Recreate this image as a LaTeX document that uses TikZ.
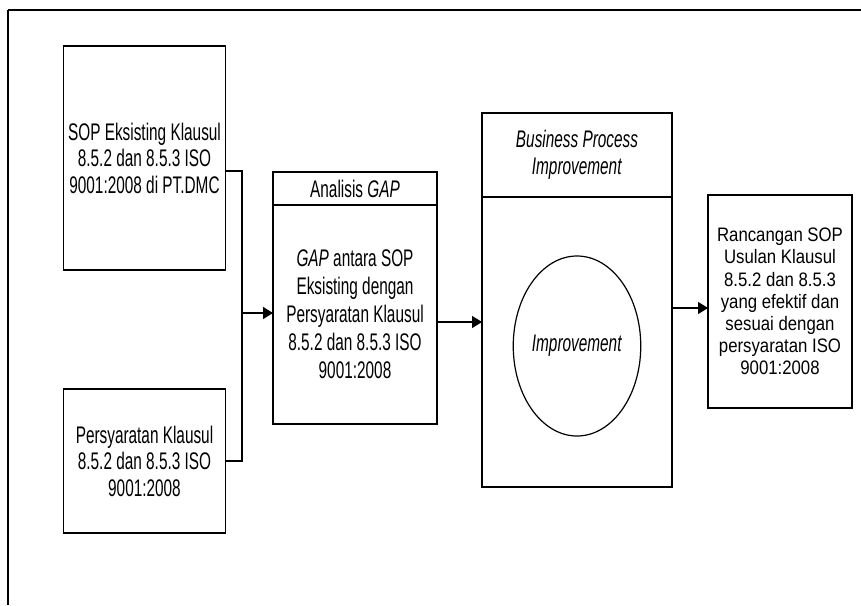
\documentclass[tikz,border=0pt]{standalone}
\usepackage{fontspec}
\setmainfont[FakeStretch=0.64]{Liberation Sans}
\newfontfamily\usulanfont[FakeStretch=0.86]{Liberation Sans}
\usetikzlibrary{shapes.geometric,arrows.meta}

\begin{document}
\begin{tikzpicture}[x=1pt,y=-1pt,
    kotak/.style={draw,rectangle,line width=1.5pt,outer sep=0pt,inner sep=2pt,align=center,
      font=\fontsize{24}{26.5}\selectfont},
    garis/.style={line width=1.5pt},
    panah/.style={line width=1.5pt,-{Triangle[length=10pt,width=12pt]}}]
    \useasboundingbox (0,0) rectangle (861,605);
    % bingkai
    \draw[line width=2.2pt] (861,10) -- (8,10);
    \draw[line width=1.4pt] (8,10) -- (8,605);

    % input
    \node[kotak,minimum width=162pt,minimum height=224pt] (sop) at (144.5,158)
        {SOP Eksisting Klausul\\8.5.2 dan 8.5.3 ISO\\9001:2008 di PT.DMC};
    \node[kotak,minimum width=162pt,minimum height=144pt] (persy) at (144.5,461)
        {Persyaratan Klausul\\8.5.2 dan 8.5.3 ISO\\9001:2008};
    \coordinate (gabung) at (242,313);

    % analisis gap
    \node[kotak,minimum width=164pt,minimum height=33pt] (gaphead) at (355,188.5)
        {Analisis \textit{GAP}};
    \node[kotak,minimum width=164pt,minimum height=219pt,font=\fontsize{24}{28}\selectfont] (gapbody) at (355,314.5)
        {\textit{GAP} antara SOP\\Eksisting dengan\\Persyaratan Klausul\\8.5.2 dan 8.5.3 ISO\\9001:2008};

    % bpi
    \node[kotak,minimum width=190pt,minimum height=84pt] (bpihead) at (577,155)
        {\textit{Business Process}\\\textit{Improvement}};
    \node[kotak,minimum width=190pt,minimum height=290pt] (bpibody) at (577,342) {};
    \node[draw,ellipse,line width=1.2pt,minimum width=108pt,minimum height=180pt,inner sep=0pt,
        font=\fontsize{24}{26.5}\selectfont] (impr) at (577,346) {\textit{Improvement}};

    % output
    \node[kotak,minimum width=144pt,minimum height=213pt,font=\usulanfont\fontsize{19.5}{22.2}\selectfont] (usulan) at (780,301.5)
        {Rancangan SOP\\Usulan Klausul\\8.5.2 dan 8.5.3\\yang efektif dan\\sesuai dengan\\persyaratan ISO\\9001:2008};

    % panah
    \draw[garis] ([yshift=-13pt]sop.east) -| (gabung);
    \draw[garis] (persy.east) -| (gabung);
    \draw[panah] (gabung) -- ([yshift=1.5pt]gapbody.west);
    \draw[panah] ([yshift=-7.5pt]gapbody.east) -- ([yshift=20pt]bpibody.west);
    \draw[panah] ([yshift=34pt]bpibody.east) -- ([yshift=-6.5pt]usulan.west);
\end{tikzpicture}
\end{document}
